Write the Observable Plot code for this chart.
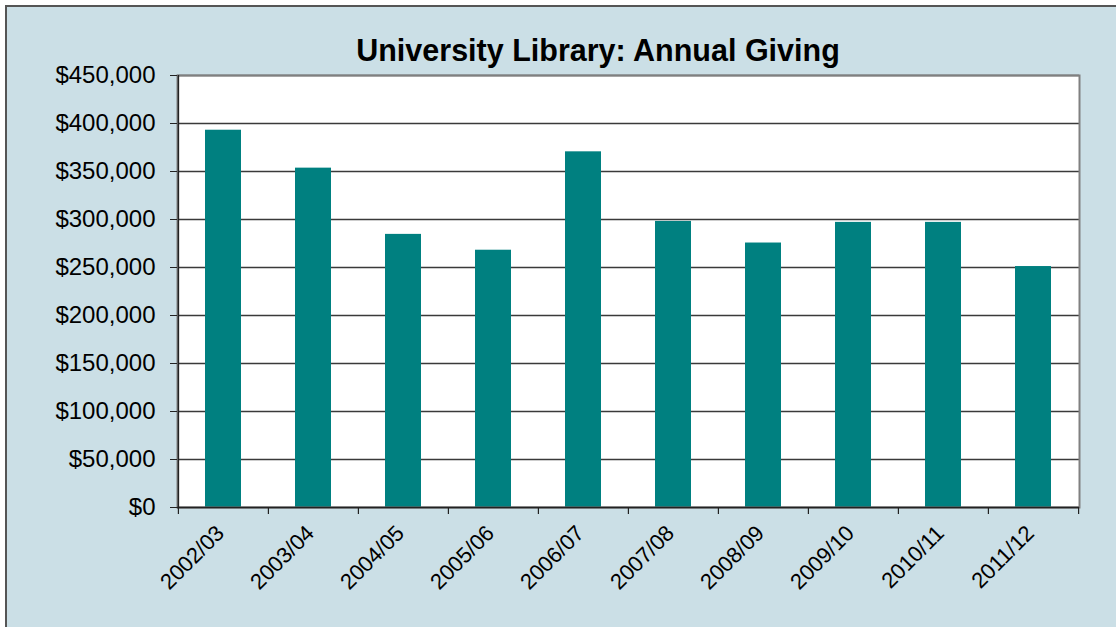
<!DOCTYPE html>
<html>
<head>
<meta charset="utf-8">
<script src="https://cdn.jsdelivr.net/npm/d3@7"></script>
<script src="https://cdn.jsdelivr.net/npm/@observablehq/plot@0.6"></script>
<style>
  html, body { margin: 0; padding: 0; background: #ffffff; }
  #wrap { position: relative; width: 1116px; height: 627px; overflow: hidden; font-family: "Liberation Sans", Arial, sans-serif; }
  #bg { position: absolute; left: 5px; top: 5px; right: 0; bottom: 0; background: #cbdfe6; border-left: 2px solid #555; border-top: 2px solid #555; }
  #title { position: absolute; left: 0; width: 1196px; top: 35px; text-align: center; font-weight: bold; font-size: 30.5px; line-height: 1; color: #000; }
  #chart { position: absolute; left: 0; top: 0; }
</style>
</head>
<body>
<div id="wrap">
  <div id="bg"></div>
  <div id="title">University Library: Annual Giving</div>
  <div id="chart"></div>
</div>
<script>
const years = ["2002/03","2003/04","2004/05","2005/06","2006/07","2007/08","2008/09","2009/10","2010/11","2011/12"];
const giving = [393000, 353500, 284500, 268000, 370500, 298000, 275500, 297000, 297000, 251000];
const yTicks = [0, 50000, 100000, 150000, 200000, 250000, 300000, 350000, 400000, 450000];

const data = years.map((y, i) => ({year: y, value: giving[i]}));

const W = 1116, H = 627, mL = 177, mR = 37, mT = 75, mB = 120;
const step = (W - mL - mR) / years.length;

const chart = Plot.plot({
  width: W,
  height: H,
  marginLeft: mL,
  marginRight: mR,
  marginTop: mT,
  marginBottom: mB,
  style: {background: "transparent", fontFamily: "'Liberation Sans', Arial, sans-serif", color: "#000"},
  x: {domain: years, paddingInner: 0.6, paddingOuter: 0.3, label: null},
  y: {domain: [0, 450000], label: null},
  marks: [
    Plot.frame({fill: "white", stroke: null}),
    Plot.gridY(yTicks, {stroke: "#3a3a3a", strokeOpacity: 1, strokeWidth: 1.4}),
    Plot.barY(data, {x: "year", y: "value", fill: "#008080"}),
    Plot.frame({stroke: "#808080", strokeWidth: 2}),
    Plot.ruleY([0], {stroke: "#222", strokeWidth: 1.5}),
    Plot.ruleX([years[0]], {dx: -step / 2, y1: 0, y2: 450000, stroke: "#222", strokeWidth: 1.5}),
    Plot.ruleX(years, {x: d => d, dx: -step / 2, y1: 0, y2: 0, insetBottom: -7, stroke: "#222", strokeWidth: 1.2}),
    Plot.ruleX([years[years.length - 1]], {dx: step / 2, y1: 0, y2: 0, insetBottom: -7, stroke: "#222", strokeWidth: 1.2}),
    Plot.axisY({ticks: yTicks, tickFormat: d => "$" + d3.format(",")(d), tickSize: 7, tickPadding: 15, fontSize: 24, stroke: "#222"}),
    Plot.axisX({tickSize: 0, tickRotate: -45, tickPadding: 22, dx: -3, fontSize: 22})
  ]
});
document.getElementById("chart").appendChild(chart);
</script>
</body>
</html>
